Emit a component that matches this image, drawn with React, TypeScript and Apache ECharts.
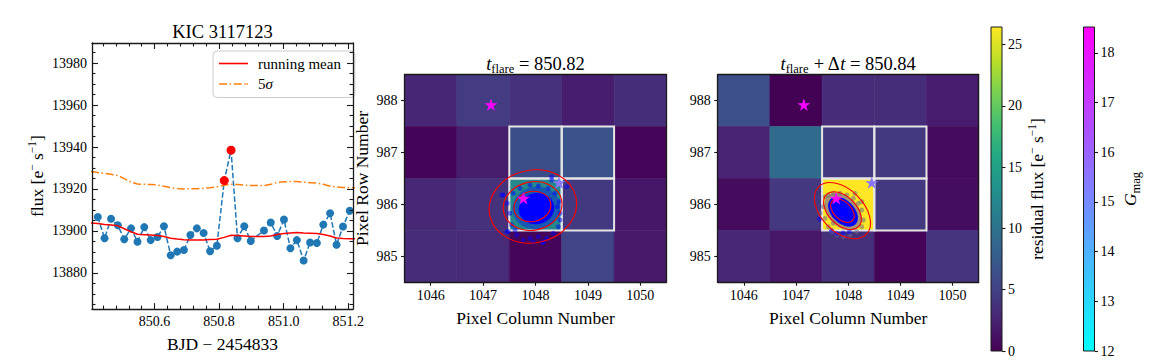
import React, { useEffect, useRef } from 'react';
import * as echarts from 'echarts';

// ---------------- Light curve (left panel) ----------------
const bjd = [850.424, 850.445, 850.465, 850.486, 850.506, 850.527, 850.547, 850.568, 850.588, 850.609, 850.629, 850.650, 850.670, 850.691, 850.711, 850.731, 850.752, 850.772, 850.793, 850.816, 850.837, 850.857, 850.878, 850.898, 850.939, 850.960, 850.980, 851.001, 851.021, 851.041, 851.062, 851.082, 851.103, 851.123, 851.144, 851.164, 851.184, 851.205];
const flux = [13906.6, 13896.5, 13905.8, 13902.7, 13896.0, 13901.2, 13894.8, 13901.8, 13895.6, 13897.1, 13902.2, 13888.4, 13890.1, 13890.9, 13898.0, 13901.2, 13899.0, 13890.3, 13892.9, 13924.0, 13938.5, 13896.5, 13902.2, 13895.2, 13900.2, 13904.0, 13897.6, 13905.4, 13891.7, 13895.6, 13885.9, 13894.5, 13894.2, 13903.0, 13908.4, 13893.4, 13902.1, 13909.6];
const flareBjd = [850.816, 850.837];
const flareFlux = [13924.0, 13938.5];
const smoothBjd = [850.403, 850.424, 850.445, 850.465, 850.486, 850.506, 850.527, 850.547, 850.568, 850.588, 850.609, 850.629, 850.650, 850.670, 850.691, 850.711, 850.731, 850.752, 850.772, 850.793, 850.816, 850.837, 850.857, 850.878, 850.898, 850.939, 850.960, 850.980, 851.001, 851.021, 851.041, 851.062, 851.082, 851.103, 851.123, 851.144, 851.164, 851.184, 851.205, 851.226];
const runningMean = [13903.8, 13903.5, 13903.0, 13902.8, 13902.4, 13901.0, 13899.6, 13898.4, 13898.2, 13898.0, 13897.8, 13897.3, 13896.5, 13896.1, 13895.8, 13895.6, 13895.6, 13895.7, 13895.9, 13896.0, 13896.9, 13897.9, 13897.8, 13897.6, 13897.3, 13897.3, 13897.6, 13898.3, 13898.8, 13899.0, 13899.2, 13899.0, 13898.9, 13898.7, 13898.3, 13897.6, 13896.6, 13896.4, 13896.3, 13896.2];
const fiveSigma = [13928.3, 13927.8, 13927.4, 13927.0, 13926.4, 13924.9, 13923.3, 13922.4, 13922.2, 13922.1, 13921.9, 13921.3, 13920.6, 13920.2, 13920.0, 13920.1, 13920.1, 13920.3, 13920.6, 13921.0, 13921.7, 13922.3, 13922.1, 13921.8, 13921.6, 13921.6, 13922.2, 13923.1, 13923.4, 13923.6, 13923.5, 13923.2, 13923.0, 13922.8, 13922.2, 13921.3, 13920.9, 13920.7, 13920.6, 13920.5];

const bjdRange = [850.406, 851.215];
const fluxRange = [13862.7, 13989.6];
const bjdMajor = [850.6, 850.8, 851.0, 851.2];
const bjdMinor = [850.44, 850.48, 850.52, 850.56, 850.64, 850.68, 850.72, 850.76, 850.84, 850.88, 850.92, 850.96, 851.04, 851.08, 851.12, 851.16];
const fluxMajor = [13880, 13900, 13920, 13940, 13960, 13980];
const fluxMinor = [13865, 13870, 13875, 13885, 13890, 13895, 13905, 13910, 13915, 13925, 13930, 13935, 13945, 13950, 13955, 13965, 13970, 13975, 13985];

// ---------------- Pixel images ----------------
const pixCols = [1046, 1047, 1048, 1049, 1050];
const pixRows = [988, 987, 986, 985];
const colRange = [1045.5, 1050.5];
const rowRange = [984.5, 988.5];
const tFlare = '850.82';
const tNext = '850.84';
const residFlare = [
  [2.8, 4.6, 3.7, 2.2, 3.4],
  [0.3, 2.1, 6.3, 6.9, 0.4],
  [3.0, 3.7, 12.3, 4.4, 1.6],
  [3.3, 3.1, 0.4, 5.3, 1.8],
];
const residNext = [
  [6.4, 0.1, 3.3, 3.4, 2.0],
  [2.5, 9.2, 4.4, 4.4, 0.8],
  [0.8, 4.3, 26.44, 4.4, 0.9],
  [2.9, 1.7, 3.6, 0.3, 3.9],
];
const residMax = 26.44;
const residTicks = [0, 5, 10, 15, 20, 25];
const apertureCols = [1048, 1049, 1048, 1049];
const apertureRows = [987, 987, 986, 986];
const gaiaCol = [1047.15, 1047.77, 1048.45];
const gaiaRow = [987.92, 986.12, 986.42];
const gaiaGmag = [18.4, 18.5, 15.5];
const gmagRange = [12, 18.52];
const gmagTicks = [12, 13, 14, 15, 16, 17, 18];

// centroid clouds [col, row, semiCol, semiRow, rotationDeg]
const flareHalo = [1048.02, 985.93, 0.46, 0.41, 10];
const flareCore = [1048.02, 985.92, 0.34, 0.30, 10];
const flareDotCol = [1047.386, 1047.462, 1047.513, 1047.546, 1047.450, 1047.641, 1047.767, 1047.895, 1048.053, 1048.214, 1048.340, 1048.435, 1048.468, 1048.454, 1048.372, 1048.244, 1048.053, 1047.895, 1047.704, 1047.576, 1048.309, 1047.958, 1048.149, 1047.609, 1048.468, 1048.416, 1048.309, 1048.595, 1047.355, 1048.137, 1047.481];
const flareDotRow = [986.182, 986.022, 985.830, 985.604, 985.475, 985.411, 985.315, 985.348, 985.379, 985.348, 985.444, 985.571, 985.830, 986.053, 986.215, 986.311, 986.355, 986.375, 986.311, 986.215, 986.471, 985.282, 985.282, 985.508, 985.700, 985.957, 986.535, 986.342, 986.182, 985.263, 985.475];
const flareEllipses = [
  [1047.95, 985.96, 0.84, 0.70, 12],
  [1047.945, 985.97, 0.565, 0.465, 12],
  [1047.94, 985.96, 0.355, 0.29, 12],
];
const nextHalo = [1047.90, 985.86, 0.42, 0.29, -45];
const nextCore = [1047.90, 985.86, 0.34, 0.22, -45];
const nextGrayCol = [1047.556, 1047.523, 1047.556, 1047.619, 1047.684, 1047.780, 1047.906, 1048.034, 1048.163, 1048.259, 1048.289, 1048.259, 1048.194, 1048.098, 1047.971, 1047.843, 1047.715, 1047.619, 1048.130, 1048.259, 1047.460, 1047.715];
const nextGrayRow = [986.149, 985.957, 985.733, 985.571, 985.475, 985.411, 985.379, 985.411, 985.475, 985.571, 985.700, 985.893, 986.022, 986.118, 986.182, 986.215, 986.215, 986.182, 986.215, 986.053, 985.830, 985.637];
const nextDotCol = [1047.68, 1047.78, 1047.90, 1047.45, 1048.02];
const nextDotRow = [985.50, 985.44, 985.45, 985.72, 985.47];
const nextEllipses = [
  [1047.89, 985.88, 0.645, 0.405, -45],
  [1047.89, 985.88, 0.435, 0.27, -45],
  [1047.89, 985.88, 0.27, 0.17, -45],
];

// ---------------- styles ----------------
const SERIF = '"Liberation Serif", "DejaVu Serif", serif';
const INK = '#000000';
const SPINE = '#1a1a1a';
const TICK_FONT = 14;
const LABEL_FONT = 17.5;
const TITLE_FONT = 18.5;
const VIRIDIS = ['#440154', '#482475', '#414487', '#355f8d', '#2a788e', '#21918c', '#22a884', '#44bf70', '#7ad151', '#bddf26', '#fde725'];
const COOL = ['#00ffff', '#ff00ff'];
const STAR = 'path://M50 0 L61.2 34.5 L97.6 34.5 L68.2 55.9 L79.4 90.5 L50 69.1 L20.6 90.5 L31.8 55.9 L2.4 34.5 L38.8 34.5 Z';
const ICON_SOLID = 'path://M0 0 H29 V1.6 H0 Z';
const ICON_DASHDOT = 'path://M0 0 H8 V1.6 H0 Z M10.6 0 H12.1 V1.6 H10.6 Z M14.7 0 H22.7 V1.6 H14.7 Z M25.3 0 H26.8 V1.6 H25.3 Z M27.6 0 H29 V1.6 H27.6 Z';

const sup = { fontSize: 11.5, lineHeight: 12, verticalAlign: 'top', fontFamily: SERIF, color: INK };
const sub = { fontSize: 12.5, lineHeight: 12, verticalAlign: 'bottom', fontFamily: SERIF, color: INK };
const it = (fs: number) => ({ fontSize: fs, lineHeight: 24, fontStyle: 'italic', fontFamily: SERIF, color: INK });
const tickRich = { n: { fontSize: TICK_FONT, fontFamily: SERIF, color: INK } };

const labelStyle = { fontSize: LABEL_FONT, fontFamily: SERIF, color: INK, lineHeight: 22, rich: { sup, sub, it: it(LABEL_FONT) } };
const titleStyle = { fontSize: TITLE_FONT, fontFamily: SERIF, color: INK, lineHeight: 24, rich: { sup, sub, it: it(TITLE_FONT) } };

function valueAxis(o: any) {
  return {
    type: 'value',
    gridIndex: o.grid,
    position: o.pos,
    min: o.range[0],
    max: o.range[1],
    z: 10,
    axisLine: { show: o.line !== false, onZero: false, lineStyle: { color: SPINE, width: 1.3 } },
    axisTick: o.ticks
      ? { show: true, inside: !!o.inside, length: o.len, customValues: o.ticks, lineStyle: { color: SPINE, width: 1.1 } }
      : { show: false },
    axisLabel: o.labels
      ? {
          show: true, customValues: o.ticks, fontSize: TICK_FONT, fontFamily: SERIF, color: INK, margin: o.margin,
          formatter: (v: number) => '{n|' + o.fmt(v) + '}', rich: tickRich,
        }
      : { show: false },
    splitLine: { show: false },
    name: o.name,
    nameLocation: 'middle',
    nameGap: o.nameGap,
    nameRotate: o.nameRotate,
    nameTextStyle: o.nameStyle,
  };
}

const fmtInt = (v: number) => String(Math.round(v));

function ellipseRender(fill: any, stroke: any, lw: number) {
  return (params: any, api: any) => {
    const c = api.coord([api.value(0), api.value(1)]);
    const s = api.size([api.value(2), api.value(3)]);
    return {
      type: 'ellipse',
      x: c[0],
      y: c[1],
      rotation: (api.value(4) * Math.PI) / 180,
      shape: { cx: 0, cy: 0, rx: s[0], ry: s[1] },
      style: { fill, stroke, lineWidth: lw },
    };
  };
}

function heatRender(params: any, api: any) {
  const c = api.value(0);
  const r = api.value(1);
  const a = api.coord([c - 0.5, r + 0.5]);
  const b = api.coord([c + 0.5, r - 0.5]);
  const color = api.visual('color');
  return {
    type: 'rect',
    shape: { x: a[0], y: a[1], width: b[0] - a[0], height: b[1] - a[1] },
    style: { fill: color, stroke: color, lineWidth: 0.6 },
  };
}

function apertureRender(params: any, api: any) {
  const c = api.value(0);
  const r = api.value(1);
  const a = api.coord([c - 0.5, r + 0.5]);
  const b = api.coord([c + 0.5, r - 0.5]);
  return {
    type: 'rect',
    shape: { x: a[0], y: a[1], width: b[0] - a[0], height: b[1] - a[1] },
    style: { fill: 'none', stroke: '#e6e6e6', lineWidth: 2 },
  };
}

function colorbarRender(stops: string[]) {
  return (params: any, api: any) => {
    const a = api.coord([0, api.value(2)]);
    const b = api.coord([1, api.value(1)]);
    const n = stops.length - 1;
    const grad = new echarts.graphic.LinearGradient(
      0, 0, 0, 1,
      stops.slice().reverse().map((color, i) => ({ offset: i / n, color }))
    );
    return {
      type: 'rect',
      shape: { x: a[0], y: a[1], width: b[0] - a[0], height: b[1] - a[1] },
      style: { fill: grad, stroke: SPINE, lineWidth: 1 },
    };
  };
}

function buildOption() {
  const series: any[] = [];
  const heatIdx: number[] = [];
  const starIdx: number[] = [];

  // Light curve
  series.push({
    type: 'line', xAxisIndex: 0, yAxisIndex: 0, z: 2,
    data: bjd.map((t, i) => [t, flux[i]]),
    symbol: 'circle', symbolSize: 8, showSymbol: true, showAllSymbol: true,
    itemStyle: { color: '#1f77b4', opacity: 1 },
    lineStyle: { color: '#1f77b4', width: 1.5, type: [5.5, 2.4] },
    clip: true, silent: true,
  });
  series.push({
    type: 'line', name: 'running mean', xAxisIndex: 0, yAxisIndex: 0, z: 3,
    data: smoothBjd.map((t, i) => [t, runningMean[i]]),
    symbol: 'none', itemStyle: { color: '#ff0000' },
    lineStyle: { color: '#ff0000', width: 1.5 }, clip: true, silent: true,
  });
  series.push({
    type: 'line', name: '5σ', xAxisIndex: 0, yAxisIndex: 0, z: 3,
    data: smoothBjd.map((t, i) => [t, fiveSigma[i]]),
    symbol: 'none', itemStyle: { color: '#ff7f0e' },
    lineStyle: { color: '#ff7f0e', width: 1.5, type: [8, 2.6, 1.5, 2.6] }, clip: true, silent: true,
  });
  series.push({
    type: 'scatter', xAxisIndex: 0, yAxisIndex: 0, z: 4,
    data: flareBjd.map((t, i) => [t, flareFlux[i]]),
    symbolSize: 9, itemStyle: { color: '#ff0000', opacity: 1 }, silent: true,
  });

  function panel(ax: number, resid: number[][], halo: number[], core: number[], dotCol: number[], dotRow: number[], ellipses: number[][], grayCol?: number[], grayRow?: number[]) {
    heatIdx.push(series.length);
    series.push({
      type: 'custom', xAxisIndex: ax, yAxisIndex: ax, z: 1, silent: true,
      renderItem: heatRender,
      data: pixRows.flatMap((r, ri) => pixCols.map((c, ci) => [c, r, resid[ri][ci]])),
    });
    series.push({
      type: 'custom', xAxisIndex: ax, yAxisIndex: ax, z: 2, silent: true,
      renderItem: apertureRender,
      data: apertureCols.map((c, i) => [c, apertureRows[i]]),
    });
    if (grayCol && grayRow) {
      series.push({
        type: 'scatter', xAxisIndex: ax, yAxisIndex: ax, z: 3, silent: true,
        symbolSize: 5, itemStyle: { color: 'rgba(105,105,135,0.55)', opacity: 1 },
        data: grayCol.map((c, i) => [c, grayRow[i]]),
      });
    }
    series.push({
      type: 'custom', xAxisIndex: ax, yAxisIndex: ax, z: 3, silent: true,
      renderItem: ellipseRender('rgba(0,0,255,0.35)', 'none', 0),
      data: [halo],
    });
    series.push({
      type: 'scatter', xAxisIndex: ax, yAxisIndex: ax, z: 3, silent: true,
      symbolSize: 5, itemStyle: { color: 'rgba(0,0,255,0.5)', opacity: 1 },
      data: dotCol.map((c, i) => [c, dotRow[i]]),
    });
    series.push({
      type: 'custom', xAxisIndex: ax, yAxisIndex: ax, z: 4, silent: true,
      renderItem: ellipseRender('#0000ff', 'none', 0),
      data: [core],
    });
    series.push({
      type: 'custom', xAxisIndex: ax, yAxisIndex: ax, z: 5, silent: true,
      renderItem: ellipseRender('none', '#ff0000', 1.1),
      data: ellipses,
    });
    starIdx.push(series.length);
    series.push({
      type: 'scatter', xAxisIndex: ax, yAxisIndex: ax, z: 6, silent: true,
      symbol: STAR, symbolSize: 13, symbolKeepAspect: true,
      itemStyle: { opacity: 1 },
      data: gaiaCol.map((c, i) => [c, gaiaRow[i], gaiaGmag[i]]),
    });
  }

  panel(4, residFlare, flareHalo, flareCore, flareDotCol, flareDotRow, flareEllipses);
  panel(6, residNext, nextHalo, nextCore, nextDotCol, nextDotRow, nextEllipses, nextGrayCol, nextGrayRow);

  series.push({
    type: 'custom', xAxisIndex: 8, yAxisIndex: 8, z: 2, silent: true,
    renderItem: colorbarRender(VIRIDIS), data: [[0.5, 0, residMax]],
  });
  series.push({
    type: 'custom', xAxisIndex: 9, yAxisIndex: 9, z: 2, silent: true,
    renderItem: colorbarRender(COOL), data: [[0.5, gmagRange[0], gmagRange[1]]],
  });

  const xAxis = [
    valueAxis({ grid: 0, pos: 'bottom', range: bjdRange, ticks: bjdMajor, len: 6, inside: true, labels: true, margin: 5, fmt: (v: number) => v.toFixed(1), name: 'BJD − 2454833', nameGap: 22, nameStyle: labelStyle }),
    valueAxis({ grid: 0, pos: 'bottom', range: bjdRange, ticks: bjdMinor, len: 3.5, inside: true, line: false }),
    valueAxis({ grid: 0, pos: 'top', range: bjdRange, ticks: bjdMajor, len: 6, inside: true, name: 'KIC 3117123', nameGap: -1, nameStyle: titleStyle }),
    valueAxis({ grid: 0, pos: 'top', range: bjdRange, ticks: bjdMinor, len: 3.5, inside: true, line: false }),
    valueAxis({ grid: 1, pos: 'bottom', range: colRange, ticks: pixCols, len: 3.5, inside: false, labels: true, margin: 6, fmt: fmtInt, name: 'Pixel Column Number', nameGap: 19, nameStyle: labelStyle }),
    valueAxis({ grid: 1, pos: 'top', range: colRange, name: '{it|t}{sub|flare} = ' + tFlare, nameGap: -1, nameStyle: titleStyle }),
    valueAxis({ grid: 2, pos: 'bottom', range: colRange, ticks: pixCols, len: 3.5, inside: false, labels: true, margin: 6, fmt: fmtInt, name: 'Pixel Column Number', nameGap: 19, nameStyle: labelStyle }),
    valueAxis({ grid: 2, pos: 'top', range: colRange, name: '{it|t}{sub|flare} + Δ{it|t} = ' + tNext, nameGap: -1, nameStyle: titleStyle }),
    { type: 'value', gridIndex: 3, min: 0, max: 1, show: false },
    { type: 'value', gridIndex: 4, min: 0, max: 1, show: false },
  ];
  const yAxis = [
    valueAxis({ grid: 0, pos: 'left', range: fluxRange, ticks: fluxMajor, len: 6, inside: true, labels: true, margin: 5, fmt: fmtInt, name: 'flux [e{sup|−} s{sup|−1}]', nameGap: 42, nameStyle: labelStyle }),
    valueAxis({ grid: 0, pos: 'left', range: fluxRange, ticks: fluxMinor, len: 3.5, inside: true, line: false }),
    valueAxis({ grid: 0, pos: 'right', range: fluxRange, ticks: fluxMajor, len: 6, inside: true }),
    valueAxis({ grid: 0, pos: 'right', range: fluxRange, ticks: fluxMinor, len: 3.5, inside: true, line: false }),
    valueAxis({ grid: 1, pos: 'left', range: rowRange, ticks: pixRows, len: 3.5, inside: false, labels: true, margin: 7, fmt: fmtInt, name: 'Pixel Row Number', nameGap: 28, nameStyle: labelStyle }),
    valueAxis({ grid: 1, pos: 'right', range: rowRange }),
    valueAxis({ grid: 2, pos: 'left', range: rowRange, ticks: pixRows, len: 3.5, inside: false, labels: true, margin: 7, fmt: fmtInt }),
    valueAxis({ grid: 2, pos: 'right', range: rowRange }),
    valueAxis({ grid: 3, pos: 'right', range: [0, residMax], ticks: residTicks, len: 3.5, inside: false, labels: true, margin: 6, fmt: fmtInt, line: false, name: 'residual flux [e{sup|−} s{sup|−1}]', nameGap: 23, nameRotate: 90, nameStyle: labelStyle }),
    valueAxis({ grid: 4, pos: 'right', range: gmagRange, ticks: gmagTicks, len: 3.5, inside: false, labels: true, margin: 6, fmt: fmtInt, line: false, name: '{it|G}{sub|mag}', nameGap: 20, nameRotate: 90, nameStyle: labelStyle }),
  ];

  return {
    animation: false,
    textStyle: { fontFamily: SERIF, color: INK },
    grid: [
      { left: 92, top: 43, width: 261, height: 272 },
      { left: 404.5, top: 74.7, width: 262, height: 207.6 },
      { left: 717.7, top: 74.7, width: 261, height: 207.6 },
      { left: 991, top: 27, width: 11, height: 324 },
      { left: 1083.5, top: 27, width: 11, height: 324 },
    ],
    legend: {
      data: [
        { name: 'running mean', icon: ICON_SOLID },
        { name: '5σ', icon: ICON_DASHDOT },
      ],
      orient: 'vertical',
      left: 213,
      top: 51,
      itemWidth: 29,
      itemHeight: 14,
      itemGap: 5.5,
      padding: [5, 14, 6, 6],
      selectedMode: false,
      backgroundColor: 'rgba(255,255,255,0.85)',
      borderColor: '#cccccc',
      borderWidth: 1,
      borderRadius: 4,
      formatter: (n: string) => (n === '5σ' ? '5{it|σ}' : n),
      textStyle: {
        fontSize: 15, fontFamily: SERIF, color: INK, padding: [0, 0, 0, 5],
        rich: { it: { fontSize: 15, fontStyle: 'italic', fontFamily: SERIF, color: INK } },
      },
    },
    visualMap: [
      { type: 'continuous', show: false, seriesIndex: heatIdx, dimension: 2, min: 0, max: residMax, inRange: { color: VIRIDIS } },
      { type: 'continuous', show: false, seriesIndex: starIdx, dimension: 2, min: gmagRange[0], max: gmagRange[1], inRange: { color: COOL } },
    ],
    xAxis,
    yAxis,
    series,
  };
}

export default function App() {
  const ref = useRef<HTMLDivElement>(null);
  useEffect(() => {
    document.body.style.margin = '0';
    const chart = echarts.init(ref.current as HTMLDivElement, null, { renderer: 'svg' });
    chart.setOption(buildOption() as any);
    return () => chart.dispose();
  }, []);
  return <div ref={ref} style={{ width: 1152, height: 360 }} />;
}
